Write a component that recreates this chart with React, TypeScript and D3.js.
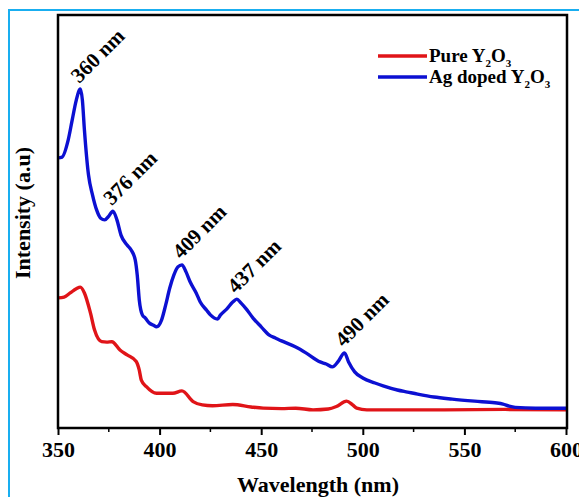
import * as React from "react"
import * as d3 from "d3"

const WIDTH = 579
const HEIGHT = 497
const MARGIN = { top: 15, left: 58 }

// wavelength (nm) and intensity (a.u.)
const agWavelength = [350, 352, 355, 357, 359, 361, 362, 363, 365, 367, 369, 371, 373, 375, 377, 379, 381, 384, 386, 388, 389, 390, 391.5, 393, 395, 397, 398.5, 401, 403, 405, 407, 409, 411, 413, 415, 418, 420, 423, 425, 428.5, 430, 433, 436, 438, 440, 443, 446, 450, 454, 457, 460, 467, 472, 479, 482, 485, 488, 491, 493, 496, 500, 506, 510, 517, 522, 527, 535, 544, 555, 565, 569, 572, 575, 585, 600]
const agIntensity = [65.4, 65.6, 69.7, 74.6, 79.4, 82.1, 79.4, 72.2, 61.3, 56.4, 52.8, 50.8, 50.4, 51.3, 52.5, 50.4, 46.7, 44.3, 43.1, 40.7, 37.0, 31.0, 27.4, 26.6, 25.4, 24.9, 24.5, 26.2, 29.8, 33.9, 37.0, 39.0, 39.5, 37.8, 35.4, 32.7, 30.5, 28.6, 27.4, 26.4, 27.4, 28.8, 30.5, 31.2, 30.3, 28.6, 26.6, 24.5, 22.5, 21.8, 21.1, 19.6, 18.2, 16.0, 15.5, 14.8, 16.2, 18.2, 16.0, 13.6, 12.1, 10.9, 10.2, 9.2, 8.7, 8.2, 7.5, 7.0, 6.5, 6.1, 5.8, 5.3, 5.0, 4.8, 4.8]

const pureWavelength = [350, 353, 356, 359, 361, 363, 366, 368, 371.5, 374, 376.5, 380.5, 384, 388.5, 390, 391, 393.5, 398.5, 406.5, 411, 416.5, 421, 426, 436, 445, 451, 460, 467, 475.5, 483, 487, 492, 495, 497, 502, 540, 570, 600]
const pureIntensity = [31.5, 31.7, 32.7, 33.7, 34.1, 32.7, 27.8, 23.7, 20.9, 20.8, 20.9, 18.9, 17.7, 16.1, 14.0, 11.6, 10.0, 8.4, 8.4, 9.0, 6.4, 5.6, 5.4, 5.7, 5.1, 4.8, 4.7, 4.8, 4.4, 4.6, 5.2, 6.5, 5.6, 4.8, 4.4, 4.4, 4.5, 4.4]

const peakLabels = ["360 nm", "376 nm", "409 nm", "437 nm", "490 nm"]
const peakWavelength = [361, 377, 411, 438, 491]

const xTicks = [350, 400, 450, 500, 550, 600]
const xMinorTicks = [375, 425, 475, 525, 575]

const RED = "#e01418"
const BLUE = "#0c10d2"
const FONT = "Liberation Serif, Times New Roman, serif"

class App extends React.Component {
  svgRef = React.createRef<SVGSVGElement>()

  componentDidMount() {
    const svg = d3.select(this.svgRef.current)

    const x = d3.scaleLinear().domain([350, 600]).range([MARGIN.left, MARGIN.left + 508])
    const y = d3.scaleLinear().domain([0, 100]).range([428, 15])

    // outer light blue frame
    svg.append("rect")
      .attr("x", 9).attr("y", 10)
      .attr("width", 700).attr("height", 700)
      .attr("fill", "none")
      .attr("stroke", "#19aef0")
      .attr("stroke-width", 2)

    const line = d3.line<[number, number]>()
      .x(d => x(d[0]))
      .y(d => y(d[1]))
      .curve(d3.curveMonotoneX)

    const series = [
      { xs: pureWavelength, ys: pureIntensity, color: RED },
      { xs: agWavelength, ys: agIntensity, color: BLUE },
    ]

    series.forEach(s => {
      svg.append("path")
        .attr("d", line(s.xs.map((v, i) => [v, s.ys[i]] as [number, number])))
        .attr("fill", "none")
        .attr("stroke", s.color)
        .attr("stroke-width", 3.4)
        .attr("stroke-linejoin", "round")
    })

    // plot box
    svg.append("rect")
      .attr("x", MARGIN.left).attr("y", MARGIN.top)
      .attr("width", x(600) - MARGIN.left + 1).attr("height", 428 - MARGIN.top)
      .attr("fill", "none")
      .attr("stroke", "#000")
      .attr("stroke-width", 2.5)

    const axis = svg.append("g").attr("transform", "translate(0,428)")
    axis.call(d3.axisBottom(x).tickValues(xTicks).tickSize(7).tickSizeOuter(0).tickPadding(6).tickFormat(d3.format("d")))
    axis.select(".domain").remove()
    axis.selectAll("line").attr("stroke", "#000").attr("stroke-width", 2)
    axis.selectAll("text")
      .attr("font-family", FONT)
      .attr("font-weight", "bold")
      .attr("font-size", 22)
      .attr("fill", "#000")

    svg.append("g")
      .selectAll("line")
      .data(xMinorTicks)
      .enter()
      .append("line")
      .attr("x1", d => x(d)).attr("x2", d => x(d))
      .attr("y1", 428).attr("y2", 432)
      .attr("stroke", "#000")
      .attr("stroke-width", 1.5)

    // peak annotations
    svg.append("g")
      .selectAll("text")
      .data(peakLabels)
      .enter()
      .append("text")
      .attr("transform", (d, i) => {
        const px = peakWavelength[i]
        const py = agIntensity[agWavelength.indexOf(px)]
        return "translate(" + (x(px) - 1) + "," + (y(py) - 5) + ") rotate(-45)"
      })
      .attr("font-family", FONT)
      .attr("font-weight", "bold")
      .attr("font-size", 21)
      .text(d => d)

    // axis titles
    svg.append("text")
      .attr("x", 318).attr("y", 492)
      .attr("text-anchor", "middle")
      .attr("font-family", FONT)
      .attr("font-weight", "bold")
      .attr("font-size", 22)
      .text("Wavelength (nm)")

    svg.append("text")
      .attr("transform", "translate(30,213) rotate(-90)")
      .attr("text-anchor", "middle")
      .attr("font-family", FONT)
      .attr("font-weight", "bold")
      .attr("font-size", 22)
      .text("Intensity (a.u)")

    // legend
    const legend = [
      { name: "Pure ", color: RED, y: 56 },
      { name: "Ag doped ", color: BLUE, y: 77 },
    ]
    legend.forEach(l => {
      svg.append("line")
        .attr("x1", 378).attr("x2", 427)
        .attr("y1", l.y).attr("y2", l.y)
        .attr("stroke", l.color)
        .attr("stroke-width", 3.4)
      const t = svg.append("text")
        .attr("x", 429).attr("y", l.y + 6)
        .attr("font-family", FONT)
        .attr("font-weight", "bold")
        .attr("font-size", 19)
      t.append("tspan").text(l.name + "Y")
      t.append("tspan").attr("font-size", 11).attr("dy", 5).text("2")
      t.append("tspan").attr("dy", -5).text("O")
      t.append("tspan").attr("font-size", 11).attr("dy", 5).text("3")
    })
  }

  render() {
    return (
      <svg
        ref={this.svgRef}
        width={WIDTH}
        height={HEIGHT}
        style={{ position: "absolute", left: 0, top: 0, background: "#fff" }}
      />
    )
  }
}

export default App
